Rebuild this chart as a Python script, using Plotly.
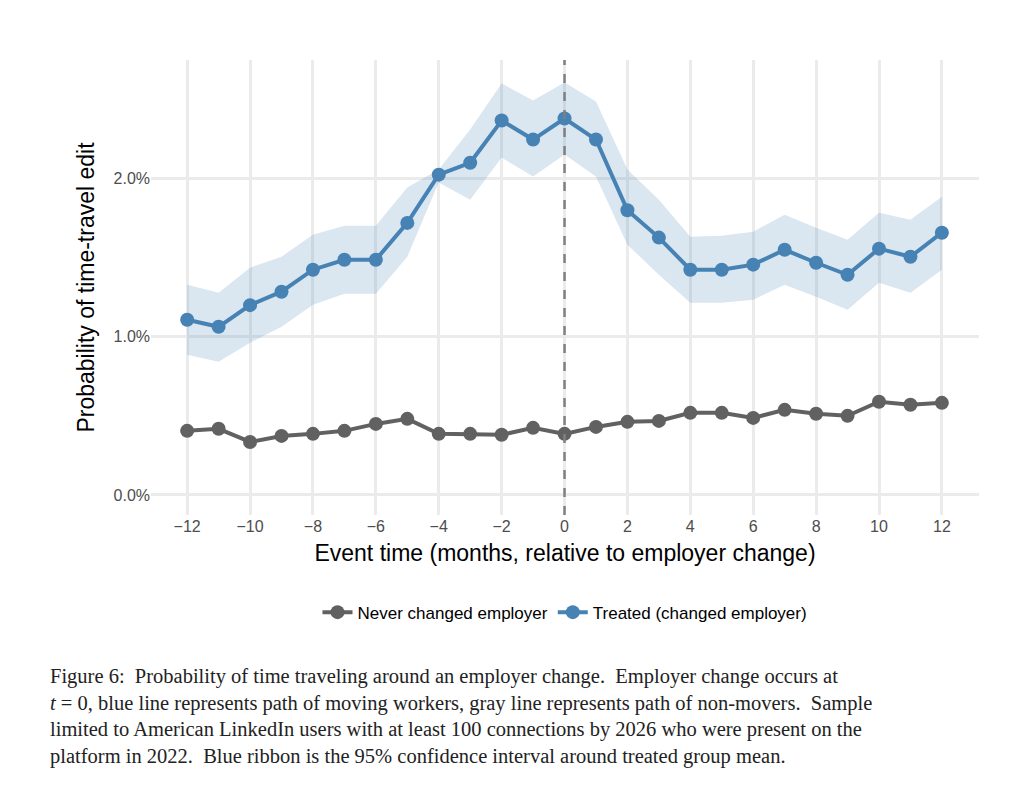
import plotly.graph_objects as go

months = list(range(-12, 13))
treated = [1.108,1.063,1.20,1.285,1.424,1.487,1.487,1.72,2.025,2.10,2.367,2.247,2.38,2.247,1.80,1.627,1.424,1.424,1.456,1.55,1.468,1.392,1.557,1.506,1.658]
upper_px = [285,293,268,257,235,226,226,188,170,130,84,101,83,102,170,200,237,236,232,215,228,240,213,220,197]
lower_px = [355,362,343,327,305,294,294,257,183,200,158,177,155,177,245,275,303,303,300,285,297,310,283,293,270]
never = [0.405,0.418,0.335,0.373,0.386,0.405,0.449,0.481,0.386,0.386,0.38,0.424,0.386,0.43,0.462,0.468,0.519,0.519,0.487,0.538,0.513,0.5,0.589,0.57,0.582]

upper = [(495 - p) / 158 / 100 for p in upper_px]
lower = [(495 - p) / 158 / 100 for p in lower_px]
treated = [v / 100 for v in treated]
never = [v / 100 for v in never]

blue = "#4682B4"
gray = "#616161"

fig = go.Figure()
fig.add_trace(go.Scatter(x=months + months[::-1], y=upper + lower[::-1], fill="toself",
                         fillcolor="rgba(70,130,180,0.2)", line=dict(width=0),
                         showlegend=False, hoverinfo="skip"))
fig.add_trace(go.Scatter(x=months, y=never, mode="lines+markers", name="Never changed employer",
                         line=dict(color=gray, width=4), marker=dict(size=14, color=gray)))
fig.add_trace(go.Scatter(x=months, y=treated, mode="lines+markers", name="Treated (changed employer)",
                         line=dict(color=blue, width=4), marker=dict(size=14, color=blue)))
fig.add_vline(x=0, line=dict(color="#808080", width=2.5, dash="dash"))

caption = ("Figure 6:  Probability of time traveling around an employer change.  Employer change occurs at<br>"
           "<i>t</i> = 0, blue line represents path of moving workers, gray line represents path of non-movers.  Sample<br>"
           "limited to American LinkedIn users with at least 100 connections by 2026 who were present on the<br>"
           "platform in 2022.  Blue ribbon is the 95% confidence interval around treated group mean.")
fig.add_annotation(text=caption, xref="paper", yref="paper", x=-0.125, y=-0.325, xanchor="left", yanchor="top",
                   align="left", showarrow=False, font=dict(family="Liberation Serif", size=20.5, color="#222"))

fig.update_layout(
    width=1024, height=789, plot_bgcolor="white", paper_bgcolor="white",
    margin=dict(l=143, r=53, t=52, b=282),
    font=dict(family="Liberation Sans", color="#333"),
    xaxis=dict(range=[-13.15, 13.18], tickvals=list(range(-12, 13, 2)), showgrid=True, gridcolor="#EBEBEB",
               gridwidth=3, zeroline=False, tickfont=dict(size=16, color="#4D4D4D"),
               title=dict(text="Event time (months, relative to employer change)", font=dict(size=23, color="black"), standoff=10)),
    yaxis=dict(range=[-0.00127, 0.0275], tickvals=[0, 0.01, 0.02], tickformat=".1%", showgrid=True,
               gridcolor="#EBEBEB", gridwidth=3, zeroline=False, tickfont=dict(size=16, color="#4D4D4D"),
               title=dict(text="Probability of time-travel edit", font=dict(size=23, color="black"), standoff=12)),
    legend=dict(orientation="h", x=0.5, xanchor="center", y=-0.175, yanchor="top", font=dict(size=17, color="black")),
)
fig.write_html("out.html")
